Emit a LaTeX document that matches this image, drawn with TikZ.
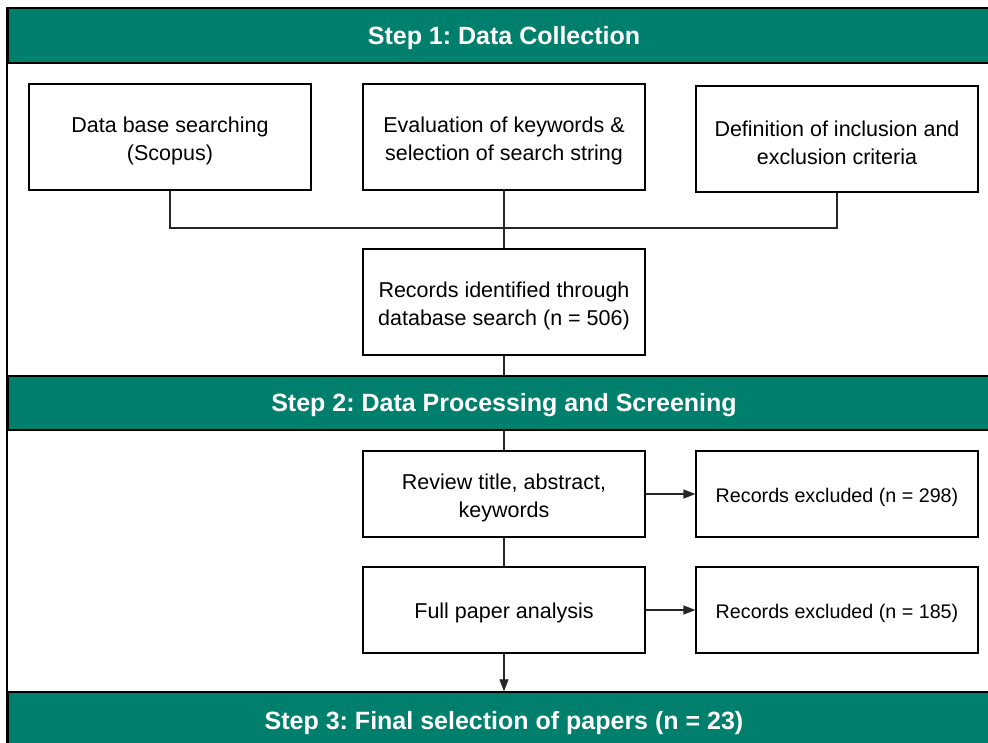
\documentclass[tikz,border=0pt]{standalone}
\usepackage{fontspec}
\setmainfont{Liberation Sans}
\usetikzlibrary{arrows.meta}
\frenchspacing
\definecolor{stepgreen}{RGB}{0,128,108}
% taller first line, so labels sit a little lower in their boxes
\newcommand{\firstline}{\rule{0pt}{24pt}}
\newcommand{\singleline}{\rule{0pt}{22pt}}
\tikzset{
  stepbar/.style={draw=black, line width=1.4pt, fill=stepgreen, text=white,
    minimum width=992pt, inner sep=0pt, font=\bfseries\fontsize{25}{29}\selectfont,
    execute at begin node={\rule{0pt}{23pt}}},
  box/.style={draw=black, line width=1.2pt, fill=white, align=center,
    minimum width=282pt, inner sep=0pt, font=\fontsize{21.5}{28}\selectfont},
  tallbox/.style={box, minimum height=106pt},
  lowbox/.style={box, minimum height=86pt},
  sidebox/.style={lowbox, font=\fontsize{19.7}{28}\selectfont},
  link/.style={draw=black!85, line width=1.2pt},
  arrow/.style={link, -{Triangle[length=12pt,width=9pt]}}
}
\begin{document}
\begin{tikzpicture}[x=1pt,y=-1pt]
\useasboundingbox (0,0) rectangle (988,742);
\clip (0,0) rectangle (988,742);
\fill[white] (0,0) rectangle (988,742);

% step headers
\node[stepbar, minimum height=55pt] (h1) at (504,35.5) {Step 1: Data Collection};
\node[stepbar, minimum height=54pt] (h2) at (504,403) {Step 2: Data Processing and Screening};
\node[stepbar, minimum height=58pt] (h3) at (504,721) {Step 3: Final selection of papers (n = 23)};

% outer frame, left side
\draw[line width=1.8pt] (h1.north west) -- (h3.south west);

% step 1
\node[tallbox] (search) at (170,137) {\firstline Data base searching\\(Scopus)};
\node[tallbox] (keys) at (504,137) {\firstline Evaluation of keywords \&\\selection of search string};
\node[tallbox] (crit) at (837,139) {\firstline Definition of inclusion and\\exclusion criteria};
\node[tallbox] (records) at (504,302) {\firstline Records identified through\\database search (n = 506)};

\coordinate (joinL) at (170,228);
\coordinate (joinR) at (837,228);
\draw[link] (search.south) -- (joinL) -- (joinR) -- (crit.south);
\draw[link] (keys.south) -- (records.north);
\draw[link] (records.south) -- (h2.north);

% step 2
\node[lowbox] (review) at (504,494) {\firstline Review title, abstract,\\keywords};
\node[sidebox] (excl1) at (837,494) {\singleline Records excluded (n = 298)};
\node[lowbox] (full) at (504,610) {\singleline Full paper analysis};
\node[sidebox] (excl2) at (837,610) {\singleline Records excluded (n = 185)};

\draw[link] (h2.south) -- (review.north);
\draw[arrow] (review.east) -- (excl1.west);
\draw[link] (review.south) -- (full.north);
\draw[arrow] (full.east) -- (excl2.west);
\draw[arrow] (full.south) -- (h3.north);
\end{tikzpicture}
\end{document}
